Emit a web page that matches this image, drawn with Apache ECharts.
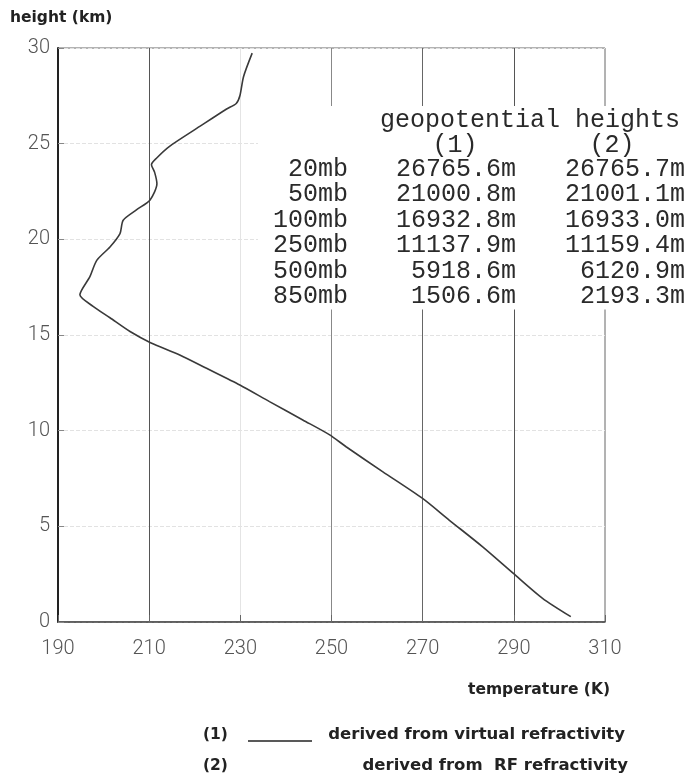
<!DOCTYPE html>
<html><head><meta charset="utf-8">
<script src="https://cdn.jsdelivr.net/npm/echarts@6/dist/echarts.min.js"></script>
<style>html,body{margin:0;padding:0;background:#fff}#c{width:688px;height:780px}</style>
</head><body><div id="c"></div>
<script>
// temperature profile (K) vs height (km)
const temperatureK = [302.5, 296.3, 289.9, 283.1, 275.8, 269.9, 261.2, 253.2, 249.6, 243.7, 236.4, 229.9, 222.6, 216.7, 210.3, 205.8, 201.4, 197.7, 194.8, 197.0, 198.5, 201.4, 203.6, 204.3, 207.2, 210.2, 211.7, 211.2, 210.5, 211.6, 214.4, 221.1, 226.9, 229.1, 229.9, 230.7, 232.6];
const heightKm     = [0.28, 1.24, 2.54, 3.94, 5.33, 6.47, 7.86, 9.16, 9.78, 10.56, 11.52, 12.39, 13.26, 13.96, 14.6, 15.18, 15.9, 16.5, 17.1, 18.05, 18.9, 19.6, 20.3, 21.0, 21.54, 22.06, 22.9, 23.5, 23.9, 24.24, 24.85, 25.9, 26.8, 27.1, 27.5, 28.5, 29.73];
// geopotential heights table
const pressureLevels = ['20mb', '50mb', '100mb', '250mb', '500mb', '850mb'];
const geoHeights1 = [26765.6, 21000.8, 16932.8, 11137.9, 5918.6, 1506.6];
const geoHeights2 = [26765.7, 21001.1, 16933.0, 11159.4, 6120.9, 2193.3];

const chart = echarts.init(document.getElementById('c'));
const profile = temperatureK.map((t, i) => [t, heightKm[i]]);

const mono = '25px "Liberation Mono", "DejaVu Sans Mono", monospace';
const ink = '#2a2a2a';
const rowTop = 169, rowStep = 25.5;
const tableEls = [
  {type: 'rect', z: 10, shape: {x: 258, y: 106, width: 430, height: rowTop + rowStep * 5 + 13 - 106}, style: {fill: '#fff'}},
  {type: 'text', z: 11, x: 380, y: 120, style: {text: 'geopotential heights', font: mono, fill: ink, textAlign: 'left', textVerticalAlign: 'middle'}},
  {type: 'text', z: 11, x: 455, y: 145, style: {text: '(1)', font: mono, fill: ink, textAlign: 'center', textVerticalAlign: 'middle'}},
  {type: 'text', z: 11, x: 612, y: 145, style: {text: '(2)', font: mono, fill: ink, textAlign: 'center', textVerticalAlign: 'middle'}}
];
pressureLevels.forEach((p, i) => {
  const y = rowTop + rowStep * i;
  tableEls.push({type: 'text', z: 11, x: 348, y, style: {text: p, font: mono, fill: ink, textAlign: 'right', textVerticalAlign: 'middle'}});
  tableEls.push({type: 'text', z: 11, x: 516, y, style: {text: geoHeights1[i].toFixed(1) + 'm', font: mono, fill: ink, textAlign: 'right', textVerticalAlign: 'middle'}});
  tableEls.push({type: 'text', z: 11, x: 685, y, style: {text: geoHeights2[i].toFixed(1) + 'm', font: mono, fill: ink, textAlign: 'right', textVerticalAlign: 'middle'}});
});

const bold = 'bold 15.5px "DejaVu Sans", "Liberation Sans", sans-serif';
const boldLeg = 'bold 16.5px "DejaVu Sans", "Liberation Sans", sans-serif';
const legendEls = [
  {type: 'text', x: 10, y: 18, style: {text: 'height (km)', font: bold, fill: '#222', textAlign: 'left', textVerticalAlign: 'middle'}},
  {type: 'text', x: 610, y: 690, style: {text: 'temperature (K)', font: bold, fill: '#222', textAlign: 'right', textVerticalAlign: 'middle'}},
  {type: 'text', x: 203, y: 735, style: {text: '(1)', font: bold, fill: '#222', textAlign: 'left', textVerticalAlign: 'middle'}},
  {type: 'line', shape: {x1: 248, y1: 741, x2: 312, y2: 741}, style: {stroke: '#222', lineWidth: 1.3}},
  {type: 'text', x: 625, y: 735, style: {text: 'derived from virtual refractivity', font: boldLeg, fill: '#222', textAlign: 'right', textVerticalAlign: 'middle'}},
  {type: 'text', x: 203, y: 766, style: {text: '(2)', font: bold, fill: '#222', textAlign: 'left', textVerticalAlign: 'middle'}},
  {type: 'text', x: 628, y: 766, style: {text: 'derived from  RF refractivity', font: boldLeg, fill: '#222', textAlign: 'right', textVerticalAlign: 'middle'}}
];

const axisFont = {fontSize: 20, color: '#555', fontFamily: 'Roboto, "Liberation Sans", sans-serif', fontWeight: 300};

chart.setOption({
  animation: false,
  backgroundColor: '#fff',
  grid: {left: 58, right: 83, top: 48, bottom: 158, show: true, borderColor: '#666', borderWidth: 1},
  xAxis: {
    type: 'value', min: 190, max: 310, interval: 20,
    axisLine: {lineStyle: {color: '#444', width: 1.5}},
    axisTick: {inside: true, length: 7, lineStyle: {color: '#666'}},
    axisLabel: Object.assign({margin: 17}, axisFont),
    splitLine: {show: true, lineStyle: {color: ['rgba(0,0,0,0)', '#555', '#e4e4e4', '#888', '#666', '#555', 'rgba(0,0,0,0)'], width: 1}}
  },
  yAxis: {
    type: 'value', min: 0, max: 30, interval: 5,
    axisLine: {show: true, lineStyle: {color: '#222', width: 2}},
    axisTick: {show: true, inside: true, length: 6, lineStyle: {color: '#888'}},
    axisLabel: Object.assign({margin: 8}, axisFont),
    splitLine: {show: true, lineStyle: {color: '#e2e2e2', type: 'dashed'}}
  },
  series: [{
    type: 'line', data: profile, showSymbol: false, smooth: 0.25,
    lineStyle: {color: '#3a3a3a', width: 1.6}, z: 3
  }],
  graphic: {elements: tableEls.concat(legendEls)}
});
</script>
</body></html>
